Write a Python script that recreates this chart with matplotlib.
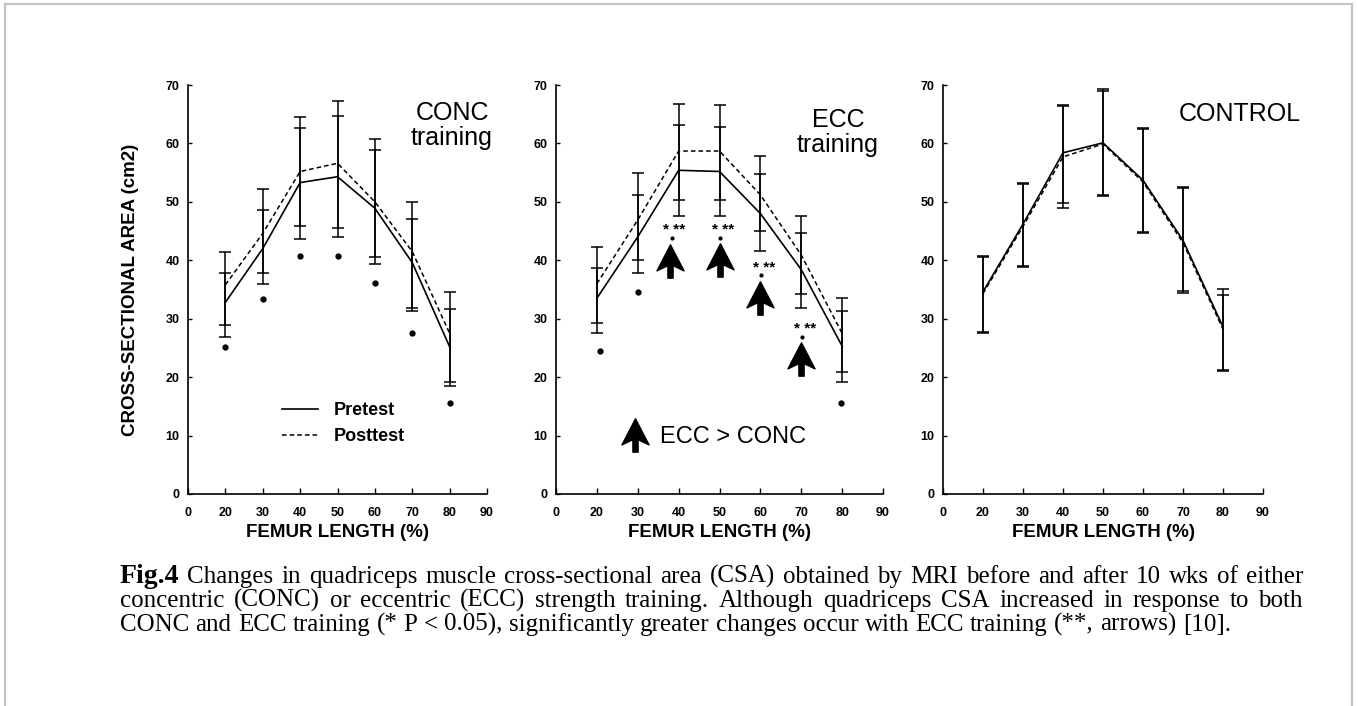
import numpy as np
import matplotlib
matplotlib.use("Agg")
import matplotlib.pyplot as plt
from matplotlib.path import Path
from matplotlib.patches import Rectangle

plt.rcParams['font.family'] = ['Liberation Sans', 'DejaVu Sans']

# ==========================================
# DATA
# ==========================================
femur = [20, 30, 40, 50, 60, 70, 80]
# the original x axis is not linear: "0" sits one step left of 20
x_ticks = [10, 20, 30, 40, 50, 60, 70, 80, 90]
x_ticklabels = ['0', '20', '30', '40', '50', '60', '70', '80', '90']
y_ticks = [0, 10, 20, 30, 40, 50, 60, 70]

# CONC training
conc_pre = [32.8, 42.0, 53.3, 54.3, 48.9, 39.6, 25.2]
conc_post = [35.8, 44.6, 55.2, 56.6, 50.0, 41.5, 27.5]
conc_pre_lo = [26.9, 35.9, 43.6, 43.9, 39.3, 31.4, 18.4]
conc_pre_hi = [37.8, 48.6, 62.7, 64.7, 58.8, 47.1, 31.6]
conc_post_lo = [28.9, 37.9, 45.8, 45.6, 40.5, 31.9, 19.2]
conc_post_hi = [41.4, 52.2, 64.6, 67.3, 60.7, 49.9, 34.5]
conc_sig_y = [25.2, 33.3, 40.8, 40.8, 36.1, 27.6, 15.5]

# ECC training
ecc_pre = [33.5, 44.0, 55.4, 55.2, 48.0, 38.4, 25.3]
ecc_post = [36.0, 46.9, 58.7, 58.7, 51.2, 40.9, 27.5]
ecc_pre_lo = [27.6, 37.8, 47.5, 47.5, 41.6, 31.9, 19.1]
ecc_pre_hi = [38.6, 51.2, 63.2, 62.8, 54.7, 44.7, 31.4]
ecc_post_lo = [29.3, 40.0, 50.4, 50.4, 45.0, 34.2, 20.8]
ecc_post_hi = [42.2, 55.0, 66.7, 66.5, 57.9, 47.6, 33.5]
ecc_sig_x = [20.7, 30, 79.8]
ecc_sig_y = [24.4, 34.5, 15.6]
ecc_arrow_x = [38, 50, 60, 70]
ecc_arrow_tip = [42.6, 42.8, 36.3, 25.8]
ecc_arrow_base = [37.2, 37.3, 30.9, 20.5]
ecc_star_x = [39, 50.8, 61, 71]
ecc_star_y = [45.2, 45.2, 38.6, 28.2]
ecc_dot_x = [38.4, 50.1, 60.2, 70.3]
ecc_dot_y = [43.8, 43.8, 37.4, 26.8]
key_arrow_x = [29.3]
key_arrow_tip = [12.8]
key_arrow_base = [7.5]

# CONTROL
ctrl_pre = [34.6, 46.2, 58.4, 60.1, 53.7, 43.4, 28.6]
ctrl_post = [34.3, 45.8, 57.7, 59.9, 53.4, 43.0, 28.2]
ctrl_pre_lo = [27.6, 38.9, 49.0, 51.0, 44.6, 34.4, 21.0]
ctrl_pre_hi = [40.7, 53.3, 66.6, 69.3, 62.7, 52.6, 35.1]
ctrl_post_lo = [27.8, 39.1, 49.8, 51.2, 44.8, 34.7, 21.2]
ctrl_post_hi = [40.5, 53.1, 66.4, 69.0, 62.4, 52.3, 34.0]

caption_lines = [
    "Fig.4 Changes in quadriceps muscle cross-sectional area (CSA) obtained by MRI before and after 10 wks of either",
    "concentric (CONC) or eccentric (ECC) strength training. Although quadriceps CSA increased in response to both",
    "CONC and ECC training (* P < 0.05), significantly greater changes occur with ECC training (**, arrows) [10].",
]

# ==========================================
# FIGURE
# ==========================================
W, H = 1358, 706
fig = plt.figure(figsize=(W / 100, H / 100), dpi=100)

# axes rectangles in pixels: (left, width); all share bottom/top
bottom_px, top_px = 494, 85
rects = [(188, 299), (556, 327), (943, 320)]
axes = []
for left, width in rects:
    ax = fig.add_axes([left / W, 1 - bottom_px / H, width / W, (bottom_px - top_px) / H])
    axes.append(ax)

# stealth-like arrow used as a marker
arrow_marker = Path([(0, 16), (13, -9), (2.5, -4), (2.5, -16), (-2.5, -16),
                     (-2.5, -4), (-13, -9), (0, 16)], closed=True)
ARROW_MS = 24


def draw_pair(ax, pre, post, pre_lo, pre_hi, post_lo, post_hi):
    h_pre, = ax.plot(femur, pre, color='black', lw=1.2, label='Pretest')
    h_post, = ax.plot(femur, post, color='black', lw=1.1, ls=(0, (3, 2)), label='Posttest')
    for lo, hi in [(pre_lo, pre_hi), (post_lo, post_hi)]:
        lo = np.array(lo)
        hi = np.array(hi)
        ax.errorbar(femur, (lo + hi) / 2, yerr=(hi - lo) / 2, fmt='none',
                    ecolor='black', elinewidth=1.1, capsize=4, capthick=1.1)
    return h_pre, h_post


for ax in axes:
    ax.set_xlim(10, 90)
    ax.set_ylim(0, 70)
    ax.spines['top'].set_visible(False)
    ax.spines['right'].set_visible(False)
    ax.spines['left'].set_linewidth(1.2)
    ax.spines['bottom'].set_linewidth(1.2)
    ax.set_xticks(x_ticks)
    ax.set_xticklabels(x_ticklabels)
    ax.set_yticks(y_ticks)
    ax.tick_params(axis='x', direction='in', length=4, width=1, labelsize=9, pad=9)
    ax.tick_params(axis='y', direction='in', length=3, width=1, labelsize=9, pad=6)
    for lbl in ax.get_xticklabels() + ax.get_yticklabels():
        lbl.set_fontweight('bold')
    ax.set_xlabel('FEMUR LENGTH (%)', fontsize=13.5, fontweight='bold', labelpad=4)

# --- CONC panel
ax = axes[0]
h_pre, h_post = draw_pair(ax, conc_pre, conc_post, conc_pre_lo, conc_pre_hi,
                          conc_post_lo, conc_post_hi)
ax.plot(femur, conc_sig_y, 'o', color='black', ms=3.5)
ax.text(0.883, 0.90, 'CONC\ntraining', transform=ax.transAxes, fontsize=18,
        ha='center', va='center', linespacing=1.05)
ax.set_ylabel('CROSS-SECTIONAL AREA (cm2)', fontsize=13.5, fontweight='bold')
ax.yaxis.set_label_coords(-0.165, 0.5)
leg = ax.legend(handles=[h_pre, h_post], loc='center left', bbox_to_anchor=(0.285, 0.172),
                frameon=False, borderpad=0, handlelength=2.0, handletextpad=0.85,
                labelspacing=0.5, prop={'weight': 'bold', 'size': 13})

# --- ECC panel
ax = axes[1]
draw_pair(ax, ecc_pre, ecc_post, ecc_pre_lo, ecc_pre_hi, ecc_post_lo, ecc_post_hi)
ax.plot(ecc_sig_x, ecc_sig_y, 'o', color='black', ms=3.5)
arrow_mid = (np.array(ecc_arrow_tip) + np.array(ecc_arrow_base)) / 2
ax.plot(ecc_arrow_x, arrow_mid, ls='none', marker=arrow_marker, ms=ARROW_MS, color='black')
for sx, sy in zip(ecc_star_x, ecc_star_y):
    ax.text(sx, sy, '* **', fontsize=11, fontweight='bold', ha='center', va='center')
ax.plot(ecc_dot_x, ecc_dot_y, 'o', color='black', ms=2)
key_mid = (np.array(key_arrow_tip) + np.array(key_arrow_base)) / 2
ax.plot(key_arrow_x, key_mid, ls='none', marker=arrow_marker, ms=ARROW_MS, color='black')
ax.text(35.4, 9.8, 'ECC > CONC', fontsize=17, ha='left', va='center')
ax.text(0.862, 0.885, 'ECC\ntraining', transform=ax.transAxes, fontsize=18,
        ha='center', va='center', linespacing=1.05)

# --- CONTROL panel
ax = axes[2]
draw_pair(ax, ctrl_pre, ctrl_post, ctrl_pre_lo, ctrl_pre_hi, ctrl_post_lo, ctrl_post_hi)
ax.text(0.928, 0.929, 'CONTROL', transform=ax.transAxes, fontsize=18,
        ha='center', va='center')

# --- outer frame
fig.add_artist(Rectangle((5 / W, -0.05), (1352 - 5) / W, 1.05 - 4 / H,
                         transform=fig.transFigure, fill=False,
                         edgecolor='#c4c4c4', lw=1.6))

# --- justified caption
fig.canvas.draw()
renderer = fig.canvas.get_renderer()
cap_left, cap_right = 120, 1303
space_px = 0.25 * 18 * 100 / 72
for i, line in enumerate(caption_lines):
    y = 1 - (583 + 24 * i) / H
    words = line.split(' ')
    texts = []
    for j, word in enumerate(words):
        if i == 0 and j == 0:
            t = fig.text(0, y, word, fontsize=20, fontweight='bold',
                         family='Liberation Serif', va='baseline')
        else:
            t = fig.text(0, y, word, fontsize=18, family='Liberation Serif', va='baseline')
        texts.append(t)
    widths = [t.get_window_extent(renderer).width for t in texts]
    if i < len(caption_lines) - 1:
        gap = (cap_right - cap_left - sum(widths)) / (len(words) - 1)
    else:
        gap = space_px
    x = cap_left
    for t, wd in zip(texts, widths):
        t.set_x(x / W)
        x += wd + gap

fig.savefig('out.png', dpi=100)
